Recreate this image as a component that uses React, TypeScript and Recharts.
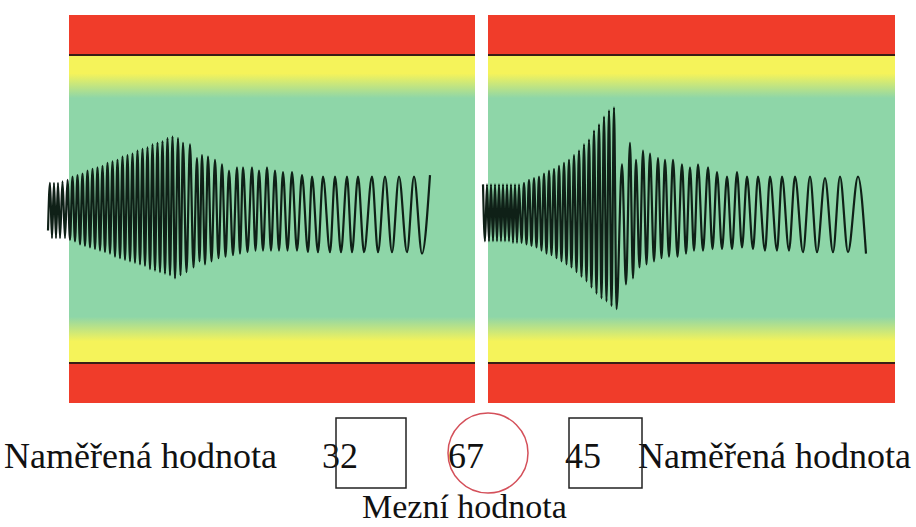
import React from "react"
import {
    LineChart,
    Line,
    XAxis,
    YAxis,
    ReferenceArea,
    ReferenceLine
} from "recharts"

// left trace: alternating extremes (time, amplitude); limits are at +-100
const leftT = [
    -21, -19, -17, -15, -13, -11, -9,
    -6.5, -4, -1.5, 1, 3.5, 6, 8.5, 11, 13.5, 16, 18.5, 21, 23.5, 26, 28.5, 31, 33.5,
    36, 38.5, 41, 43.5, 46, 48.5, 51, 53.5, 56, 58.5, 61, 63.5, 66, 68.5, 71, 73.5,
    76, 78.5, 81, 83.5, 86, 88.5, 91, 93.5, 96, 98.5, 101, 103.5, 106,
    109, 111.5, 114, 117.5, 121, 124.5, 128, 130.5, 133, 136, 139, 142.5, 146, 149.5,
    153, 156.5, 160, 164, 168, 171, 174, 178.5, 183, 186.5, 190, 194, 198, 202, 206,
    210, 214, 218.5, 223, 228, 233, 239,
    243, 249, 254, 261, 266, 272, 278, 283, 289, 295, 303, 309, 316, 323, 330, 338,
    345, 353, 361
]
const leftV = [
    -14, 17, -19, 17, -19, 17, -19,
    18, -19, 19, -20, 21, -21, 22, -23, 23, -24, 25, -25, 26, -26, 27, -27, 28, -28,
    30, -29, 31, -31, 32, -32, 34, -33, 35, -34, 36, -35, 38, -36, 39, -37, 40, -39,
    42, -40, 43, -41, 44, -42, 46, -43, 47, -45,
    46, -43, 43, -41, 42, -38, 33, -34, 35, -36, 34, -34, 32, -32, 29, -31, 25, -30,
    27, -29, 27, -28, 27, -27, 25, -27, 27, -27, 25, -27, 24, -27, 24, -27, 22, -28,
    21, -28, 21, -28, 21, -28, 21, -28, 21, -28, 21, -28, 21, -28, 21, -28, 21, -29, 22
]

// right trace
const rightT = [
    -5, -3, -1, 1, 3, 5, 7, 9, 11, 13, 15, 17, 19, 21, 23, 25, 27, 29, 31,
    33.5, 36, 38.5, 41, 43.5, 46, 48.5, 51, 53.5, 56, 58.5, 61, 63.5, 66, 68.5, 71,
    73.5, 76, 78.5, 81, 83.5, 86, 88.5, 91, 93.5, 96, 98.5, 101, 103.5, 106, 108.5,
    111, 113.5, 116, 118.5, 121, 123.5, 126, 128.5,
    134, 138, 142, 145, 148, 151.5, 155, 158.5, 162, 166, 170, 173.5, 177, 181, 185,
    189.5, 194, 198, 202, 206, 210, 215, 220, 224.5, 229, 234, 239, 244, 249, 254,
    259, 265, 270, 277, 282, 289, 294, 301, 307, 315, 322, 329, 337, 345, 352, 360,
    370, 378
]
const rightV = [
    16, -21, 16, -21, 16, -21, 16, -21, 16, -21, 16, -21, 16, -21, 16, -22, 16, -22, 16,
    -22, 17, -23, 19, -24, 20, -25, 21, -27, 23, -29, 25, -30, 26, -32, 28, -34, 30,
    -36, 32, -38, 35, -41, 38, -44, 42, -47, 45, -51, 51, -55, 55, -58, 60, -60, 64,
    -63, 66, -65,
    29, -49, 43, -45, 32, -38, 38, -36, 36, -34, 33, -32, 32, -31, 32, -31, 29, -29,
    27, -27, 29, -27, 27, -26, 24, -26, 21, -26, 24, -25,
    21, -26, 21, -27, 21, -27, 21, -27, 21, -28, 21, -28, 20, -28, 21, -28, 21, -29
]

const leftData = leftT.map((t, i) => ({ t, v: leftV[i] }))
const rightData = rightT.map((t, i) => ({ t, v: rightV[i] }))

const RED = "#f03c2a"
const YELLOW = "#f5f35a"
const GREEN = "#8ed6a8"
const LIMIT = "#3a1e16"
const TRACE = "#0f2017"
const FONT = '"Liberation Serif", "DejaVu Serif", "Times New Roman", serif'

function Panel({ data, domain, end, id, left, width }: any) {
    return (
        <div style={{ position: "absolute", left, top: 15 }}>
            <LineChart
                width={width}
                height={388}
                data={data}
                margin={{ top: 0, right: 0, bottom: 0, left: 0 }}
            >
                <defs>
                    <linearGradient id={id} x1="0" y1="0" x2="0" y2="1">
                        <stop offset="0%" stopColor={YELLOW} />
                        <stop offset="6%" stopColor={YELLOW} />
                        <stop offset="14%" stopColor={GREEN} />
                        <stop offset="85%" stopColor={GREEN} />
                        <stop offset="93%" stopColor={YELLOW} />
                        <stop offset="100%" stopColor={YELLOW} />
                    </linearGradient>
                </defs>
                <XAxis type="number" dataKey="t" domain={domain} hide allowDataOverflow />
                <YAxis type="number" domain={[-126, 126]} hide allowDataOverflow />

                <ReferenceArea x1={0} x2={end} y1={100} y2={126} fill={RED} fillOpacity={1} stroke="none" />
                <ReferenceArea x1={0} x2={end} y1={-126} y2={-100} fill={RED} fillOpacity={1} stroke="none" />
                <ReferenceArea x1={0} x2={end} y1={-100} y2={100} fill={`url(#${id})`} fillOpacity={1} stroke="none" />

                <ReferenceLine segment={[{ x: 0, y: 100 }, { x: end, y: 100 }]} stroke={LIMIT} strokeWidth={2} />
                <ReferenceLine segment={[{ x: 0, y: -100 }, { x: end, y: -100 }]} stroke={LIMIT} strokeWidth={2} />

                <Line
                    type="monotone"
                    dataKey="v"
                    stroke={TRACE}
                    strokeWidth={2.2}
                    dot={false}
                    isAnimationActive={false}
                />
            </LineChart>
        </div>
    )
}

export default function App() {
    const txt = { fontFamily: FONT, fontSize: 36, fill: "#111" }
    return (
        <div style={{ position: "absolute", left: 0, top: 0, width: 916, height: 527, background: "#fff" }}>
            <Panel data={leftData} domain={[-24, 406]} end={406} id="bandL" left={45} width={430} />
            <Panel data={rightData} domain={[-8, 407]} end={407} id="bandR" left={480} width={415} />

            <svg width={916} height={527} style={{ position: "absolute", left: 0, top: 0 }}>
                <text x={4} y={468} style={txt}>Naměřená hodnota</text>
                <text x={322} y={468} style={txt}>32</text>
                <text x={448} y={468} style={txt}>67</text>
                <text x={565} y={468} style={txt}>45</text>
                <text x={911} y={468} textAnchor="end" style={txt}>Naměřená hodnota</text>
                <text x={362} y={518} style={{ ...txt, fontSize: 34 }}>Mezní hodnota</text>
                <rect x={336} y={418} width={70} height={70} fill="none" stroke="#222" strokeWidth={1.5} />
                <rect x={569} y={418} width={73} height={70} fill="none" stroke="#222" strokeWidth={1.5} />
                <circle cx={488} cy={453} r={40} fill="none" stroke="#d4505a" strokeWidth={1.5} />
            </svg>
        </div>
    )
}
